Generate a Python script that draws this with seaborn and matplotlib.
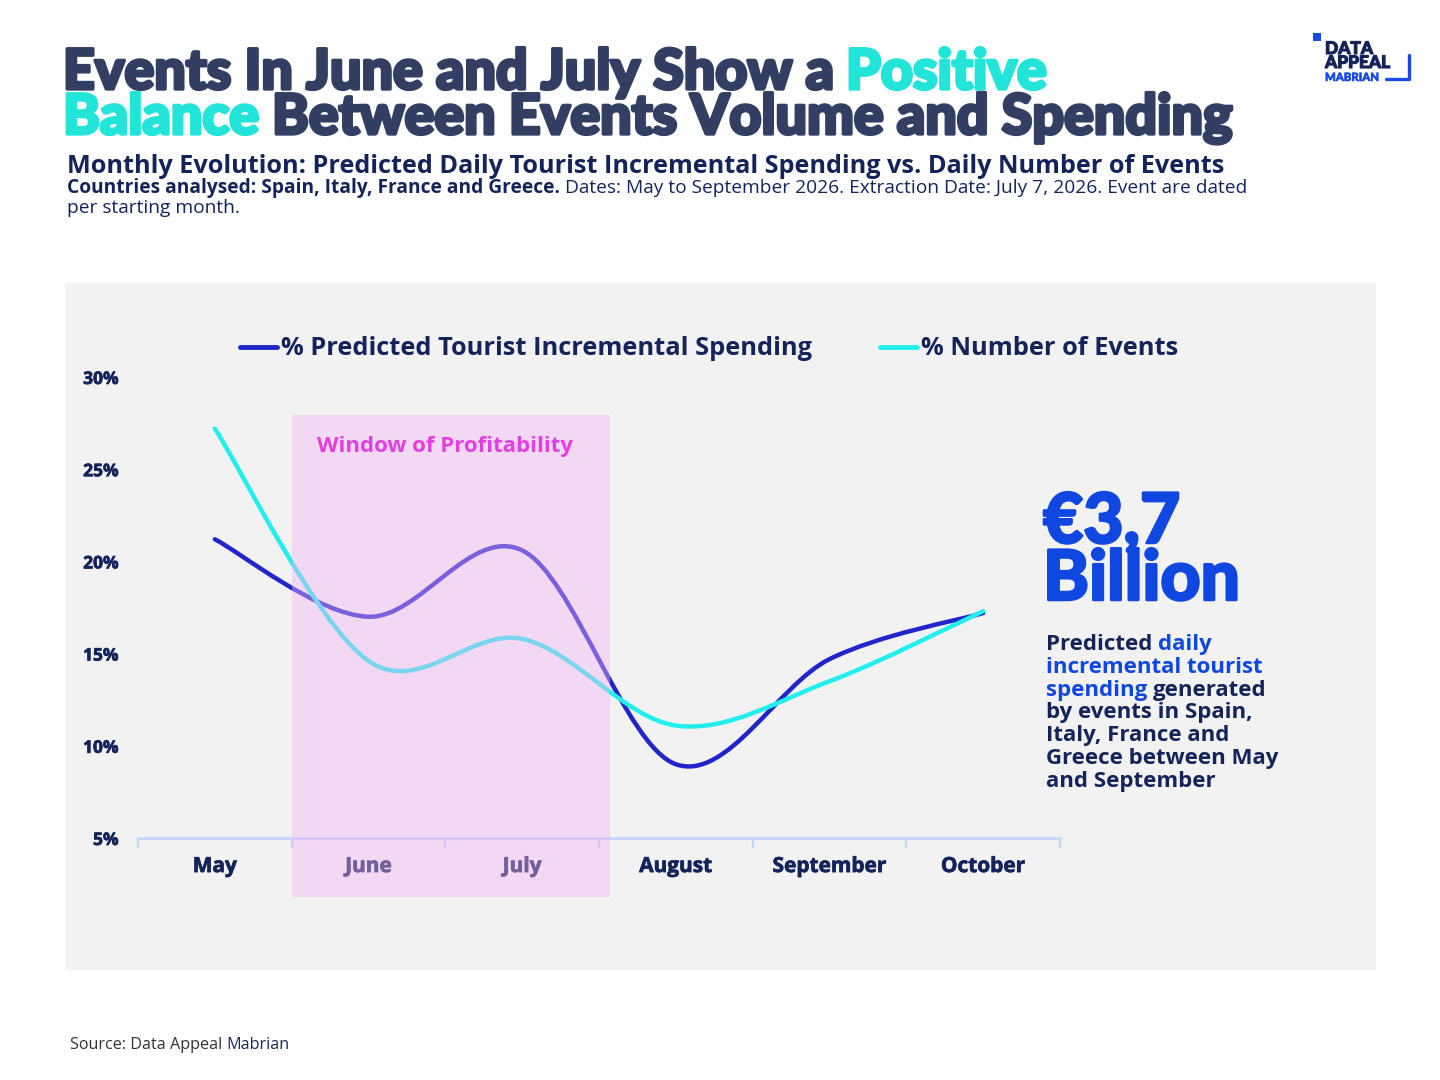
import matplotlib
matplotlib.use('Agg')
import numpy as np
import pandas as pd
import seaborn as sns
import matplotlib.pyplot as plt
import matplotlib.transforms as mtransforms
import matplotlib.patheffects as pe
from matplotlib.path import Path
from matplotlib.patches import PathPatch, Rectangle
from matplotlib.lines import Line2D

# data
months = ["May", "June", "July", "August", "September", "October"]
spending = [21.2, 17.0, 20.6, 9.0, 14.7, 17.2]
events = [27.2, 14.6, 15.8, 11.1, 13.5, 17.3]
y_ticks = [5, 10, 15, 20, 25, 30]
window_months = ["June", "July"]
series_names = ["% Predicted Tourist Incremental Spending", "% Number of Events"]

TITLE_NAVY = '#323f63'
NAVY = '#14245a'
CYAN = '#22e4d8'
BLUE_LINE = '#1f25c9'
CYAN_LINE = '#22eeee'
BLUE = '#0f47e0'
MAGENTA = '#e23fe0'

sns.set_theme(style="white")
plt.rcParams['font.family'] = ['Open Sans', 'DejaVu Sans']
HEAVY = ['Lato', 'DejaVu Sans']

fig = plt.figure(figsize=(14.4, 10.8), dpi=100)
fig.patch.set_facecolor('white')
W, H = 1440.0, 1080.0


def fx(px):
    return px / W


def fy(py):
    return 1 - py / H


def thick(color, lw):
    return [pe.withStroke(linewidth=lw, foreground=color)]


renderer = fig.canvas.get_renderer()


def rich_text(x, y, parts, stroke=0, **common):
    # draw several text runs one after another on the same baseline
    x = fx(x)
    for s, kw in parts:
        opts = dict(common)
        opts.update(kw)
        lead = len(s) - len(s.lstrip(' '))
        trail = len(s) - len(s.rstrip(' '))
        sp = fig.text(0, 0, 'x x', **opts)
        nsp = fig.text(0, 0, 'xx', **opts)
        space_w = (sp.get_window_extent(renderer).width - nsp.get_window_extent(renderer).width) / W
        sp.remove()
        nsp.remove()
        x += lead * space_w
        t = fig.text(x, fy(y), s.strip(' '), va='baseline', ha='left', **opts)
        if stroke:
            t.set_path_effects(thick(opts['color'], stroke))
        x += t.get_window_extent(renderer).width / W + trail * space_w
    return x


# grey panel behind the chart
fig.add_artist(Rectangle((fx(65), fy(970)), fx(1376 - 65), (970 - 283) / H,
                         transform=fig.transFigure, facecolor='#f2f2f2', lw=0, zorder=-1))

ax = fig.add_axes([fx(138), fy(838), fx(1060 - 138), (838 - 377) / H])
ax.patch.set_visible(False)

df = pd.DataFrame({"month": months, series_names[0]: spending, series_names[1]: events})
long = df.melt(id_vars="month", var_name="series", value_name="value")
sns.lineplot(data=long, x="month", y="value", hue="series", hue_order=series_names,
             palette=[BLUE_LINE, CYAN_LINE], sort=False, legend=False, ax=ax)


def smooth_path(xs, ys):
    verts = [(xs[0], ys[0])]
    codes = [Path.MOVETO]
    n = len(xs)
    for i in range(n - 1):
        x0, y0 = (xs[i - 1], ys[i - 1]) if i > 0 else (xs[i], ys[i])
        x3, y3 = (xs[i + 2], ys[i + 2]) if i + 2 < n else (xs[i + 1], ys[i + 1])
        c1 = (xs[i] + (xs[i + 1] - x0) / 6, ys[i] + (ys[i + 1] - y0) / 6)
        c2 = (xs[i + 1] - (x3 - xs[i]) / 6, ys[i + 1] - (y3 - ys[i]) / 6)
        verts += [c1, c2, (xs[i + 1], ys[i + 1])]
        codes += [Path.CURVE4] * 3
    return Path(verts, codes)


# replace seaborn's straight segments with smoothed curves
for line in list(ax.lines):
    xy = line.get_xydata()
    line.set_visible(False)
    ax.add_patch(PathPatch(smooth_path(xy[:, 0], xy[:, 1]), facecolor='none',
                           edgecolor=line.get_color(), lw=3.2, capstyle='round',
                           joinstyle='round', zorder=3))

ax.set_xlim(-0.5, len(months) - 0.5)
ax.set_ylim(5, 30)
ax.set_xlabel("")
ax.set_ylabel("")
ax.set_yticks(y_ticks)
ax.set_yticklabels([f"{v}%" for v in y_ticks])
ax.set_xticks(range(len(months)))
ax.set_xticklabels(months)
ax.set_xticks(np.arange(-0.5, len(months)), minor=True)
ax.tick_params(axis='y', length=0, pad=14, labelsize=12.5, labelcolor=NAVY)
ax.tick_params(axis='x', which='major', length=0, pad=13, labelsize=15, labelcolor=NAVY)
ax.tick_params(axis='x', which='minor', bottom=True, length=7, width=1.6, color='#c4d6fb',
               direction='out')
for lab in ax.get_xticklabels() + ax.get_yticklabels():
    lab.set_fontweight('bold')
    lab.set_path_effects(thick(NAVY, 0.5))
for s in ['top', 'right', 'left']:
    ax.spines[s].set_visible(False)
ax.spines['bottom'].set_color('#c4d6fb')
ax.spines['bottom'].set_linewidth(2)

# window of profitability, drawn over the lines
i0 = months.index(window_months[0])
i1 = months.index(window_months[-1])
trans = mtransforms.blended_transform_factory(ax.transData, ax.transAxes)
ax.add_patch(Rectangle((i0 - 0.5, -0.128), (i1 + 0.57) - (i0 - 0.5), 1.046,
                       transform=trans, facecolor='#f6b4f7', alpha=0.42, lw=0,
                       clip_on=False, zorder=5))
ax.text((i0 + i1) / 2, 0.838, "Window of Profitability", transform=trans, ha='center',
        va='baseline', color=MAGENTA, fontsize=16, fontweight='bold', zorder=6)

# legend
fig.add_artist(Line2D([fx(240), fx(277)], [fy(347), fy(347)], color=BLUE_LINE, lw=3.5,
                      solid_capstyle='round', transform=fig.transFigure))
fig.text(fx(281), fy(355), series_names[0], fontsize=18.3, fontweight='bold', color=NAVY,
         va='baseline')
fig.add_artist(Line2D([fx(880), fx(917)], [fy(347), fy(347)], color=CYAN_LINE, lw=3.5,
                      solid_capstyle='round', transform=fig.transFigure))
fig.text(fx(921), fy(355), series_names[1], fontsize=18.3, fontweight='bold', color=NAVY,
         va='baseline')

# title block
tkw = dict(fontsize=40, fontweight='black', family=HEAVY)
rich_text(63, 89, [("Events In June and July Show a ", dict(color=TITLE_NAVY)),
                   ("Positive", dict(color=CYAN))], stroke=2.4, **tkw)
rich_text(63, 134, [("Balance ", dict(color=CYAN)),
                    ("Between Events Volume and Spending", dict(color=TITLE_NAVY))],
          stroke=2.4, **tkw)
fig.text(fx(67), fy(173), "Monthly Evolution: Predicted Daily Tourist Incremental Spending vs. Daily Number of Events",
         fontsize=18.2, fontweight='bold', color=NAVY, va='baseline')
rich_text(67, 193, [("Countries analysed: Spain, Italy, France and Greece. ", dict(fontweight='bold')),
                    ("Dates: May to September 2026. Extraction Date: July 7, 2026. Event are dated",
                     dict(fontweight='normal'))], fontsize=13.75, color=NAVY)
fig.text(fx(67), fy(213), "per starting month.", fontsize=13.75, color=NAVY, va='baseline')

# headline figure on the right
for txt, yb in [("€3,7", 543), ("Billion", 600)]:
    fig.text(fx(1043), fy(yb), txt, fontsize=50, fontweight='black', family=HEAVY,
             color=BLUE, va='baseline', path_effects=thick(BLUE, 1.8))
pkw = dict(fontsize=16, fontweight='bold')
para = [
    [("Predicted ", dict(color=NAVY)), ("daily", dict(color=BLUE))],
    [("incremental tourist", dict(color=BLUE))],
    [("spending", dict(color=BLUE)), (" generated", dict(color=NAVY))],
    [("by events in Spain,", dict(color=NAVY))],
    [("Italy, France and", dict(color=NAVY))],
    [("Greece between May", dict(color=NAVY))],
    [("and September", dict(color=NAVY))],
]
for k, parts in enumerate(para):
    rich_text(1046, 650 + k * 22.8, parts, **pkw)

# logo
fig.add_artist(Rectangle((fx(1313), fy(41)), fx(8), 8 / H, transform=fig.transFigure,
                         facecolor='#1a4ae6', lw=0))
for txt, yb, size, col, sw in [("DATA", 54, 12.5, '#14245a', 0.8),
                               ("APPEAL", 68, 12.5, '#14245a', 0.8),
                               ("MABRIAN", 81, 8.2, '#1a4ae6', 0.4)]:
    fig.text(fx(1325), fy(yb), txt, fontsize=size, fontweight='black', family=HEAVY,
             color=col, va='baseline', path_effects=thick(col, sw))
fig.add_artist(Line2D([fx(1386), fx(1409), fx(1409)], [fy(79), fy(79), fy(55)],
                      color='#1a4ae6', lw=2.4, transform=fig.transFigure))

# source
rich_text(70, 1049, [("Source: Data Appeal ", dict(color='#333333')),
                     ("Mabrian", dict(color='#1c2a55'))], fontsize=11.6)

fig.savefig("out.png", dpi=100)
